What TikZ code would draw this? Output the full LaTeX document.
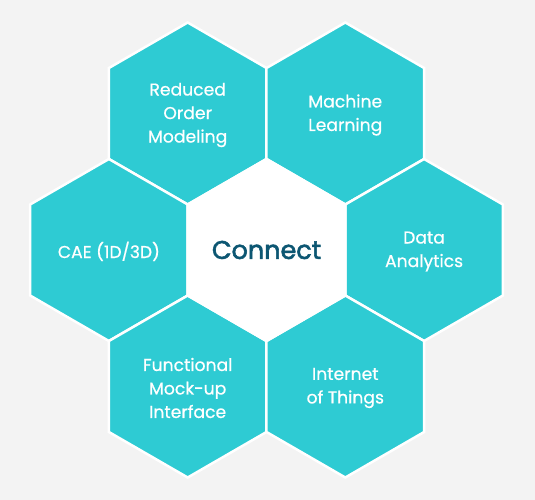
\documentclass[tikz,border=0pt]{standalone}
\usepackage{fontspec}
\setmainfont{Poppins}
\newfontfamily\labelfont[FakeBold=0.6]{Poppins}
\newfontfamily\connfont[FakeBold=2.2]{Poppins}
\definecolor{bgc}{HTML}{F3F3F3}
\definecolor{hexteal}{HTML}{2ECBD3}
\definecolor{conn}{HTML}{0C5672}
\begin{document}
\begin{tikzpicture}[x=1pt,y=-1pt,
  hexcell/.style={fill=hexteal, draw=white, line width=2.5pt, line join=miter},
  centercell/.style={fill=white, draw=white, line width=2.5pt, line join=miter},
  hexlabel/.style={text=white, align=center, font=\labelfont\fontsize{17.2}{23.5}\selectfont, inner sep=0pt, yshift=-1.5pt},
  conlabel/.style={text=conn, font=\connfont\fontsize{25.5}{28}\selectfont, inner sep=0pt}]
\fill[bgc] (0,0) rectangle (535,500);
\useasboundingbox (0,0) rectangle (535,500);
% centres
\coordinate (cC)  at (266.5,250);
\coordinate (cTL) at (187.7,113.5);
\coordinate (cTR) at (345.3,113.5);
\coordinate (cL)  at (108.9,250);
\coordinate (cR)  at (424.1,250);
\coordinate (cBL) at (187.7,386.5);
\coordinate (cBR) at (345.3,386.5);
\foreach \c/\s in {cTL/hexcell,cTR/hexcell,cL/hexcell,cR/hexcell,cBL/hexcell,cBR/hexcell,cC/centercell}{
  \draw[\s] (\c) +(30:91) -- +(90:91) -- +(150:91) -- +(210:91) -- +(270:91) -- +(330:91) -- cycle;
}
\node[conlabel] (tC) at (cC) {Connect};
\node[hexlabel] (tTL) at (cTL) {Reduced\\Order\\Modeling};
\node[hexlabel] (tTR) at (cTR) {Machine\\Learning};
\node[hexlabel] (tL)  at (cL)  {CAE (1D/3D)};
\node[hexlabel] (tR)  at (cR)  {Data\\Analytics};
\node[hexlabel] (tBL) at (cBL) {Functional\\Mock-up\\Interface};
\node[hexlabel] (tBR) at (cBR) {Internet\\of Things};
\end{tikzpicture}
\end{document}
